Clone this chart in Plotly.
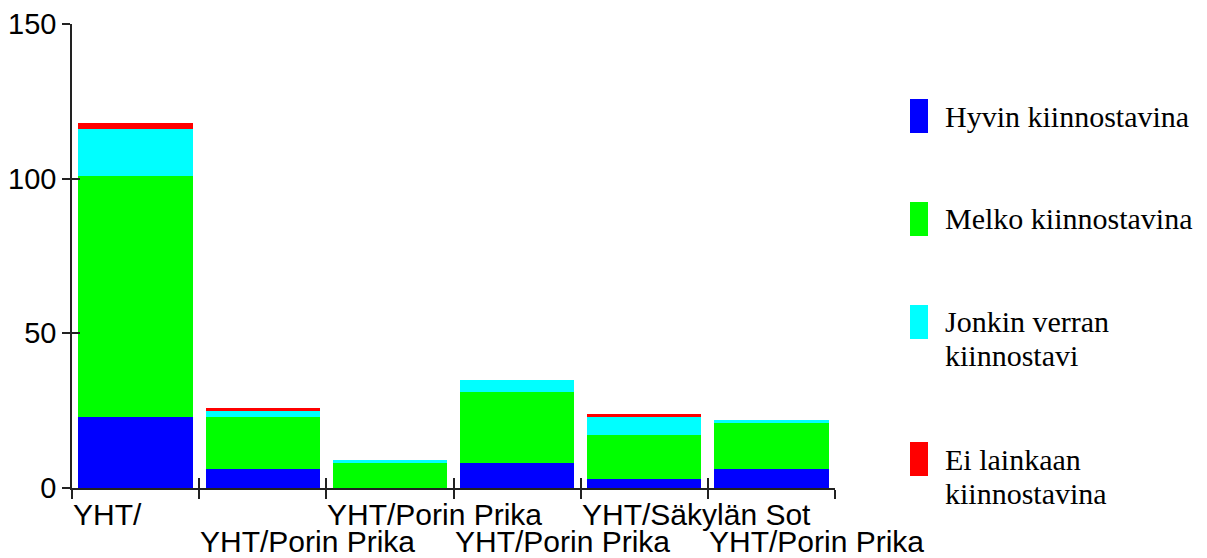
import plotly.graph_objects as go

# data
categories = ["YHT/", "YHT/Porin Prika", "YHT/Porin Prika", "YHT/Porin Prika",
              "YHT/Säkylän Sot", "YHT/Porin Prika"]
hyvin = [23, 6, 0, 8, 3, 6]
melko = [78, 17, 8, 23, 14, 15]
jonkin = [15, 2, 1, 4, 6, 1]
ei = [2, 1, 0, 0, 1, 0]

series_names = ["Hyvin kiinnostavina", "Melko kiinnostavina",
                "Jonkin verran<br>kiinnostavi", "Ei lainkaan<br>kiinnostavina"]
series_values = [hyvin, melko, jonkin, ei]
series_colors = ["#0000FF", "#00FF00", "#00FFFF", "#FF0000"]

y_ticks = [0, 50, 100, 150]

# the page body adds an 8px margin, so the figure is drawn 8px smaller
OFF = 8
W, H = 1207 - OFF, 558 - OFF
L, R, T, B = 72 - OFF, 372, 24 - OFF, 70
plot_w = W - L - R
plot_h = H - T - B

SANS = "Liberation Sans, Arial, sans-serif"
SERIF = "Liberation Serif, Times New Roman, serif"

def px_x(p):
    # page pixel -> paper x
    return (p - OFF - L) / plot_w

def px_y(p):
    # page pixel -> paper y
    return (H - B - (p - OFF)) / plot_h

idx = list(range(len(categories)))
bounds = [i - 0.5 for i in range(len(categories) + 1)]

fig = go.Figure()
for name, vals, col in zip(series_names, series_values, series_colors):
    fig.add_trace(go.Bar(x=idx, y=vals, name=name, marker_color=col,
                         marker_line_width=0, showlegend=False))

# empty trace so the overlay axes (inner half of the crossing ticks) get drawn
fig.add_trace(go.Scatter(x=[None], y=[None], xaxis="x2", yaxis="y2",
                         showlegend=False, hoverinfo="skip"))

fig.update_layout(
    width=W, height=H,
    margin=dict(l=L, r=R, t=T, b=B, autoexpand=False),
    barmode="stack", bargap=0.1,
    plot_bgcolor="white", paper_bgcolor="white",
    font=dict(family=SANS, size=30, color="black"),
    xaxis=dict(range=[-0.5, len(categories) - 0.5], tickvals=bounds,
               showticklabels=False, ticks="outside", ticklen=9, tickwidth=1.5,
               tickcolor="#222", showline=True, linecolor="#222", linewidth=1.5,
               showgrid=False, zeroline=False, automargin=False),
    yaxis=dict(range=[0, 150], tickvals=y_ticks, ticks="outside", ticklen=8,
               tickwidth=1.5, tickcolor="#222", showline=True, linecolor="#222",
               linewidth=1.5, showgrid=False, zeroline=False, automargin=False,
               ticklabeloverflow="allow", tickfont=dict(size=29)),
    xaxis2=dict(overlaying="x", anchor="y2", range=[-0.5, len(categories) - 0.5],
                tickvals=bounds, showticklabels=False, ticks="inside", ticklen=10,
                tickwidth=1.5, tickcolor="#222", showline=False, showgrid=False,
                zeroline=False, automargin=False),
    yaxis2=dict(overlaying="y", anchor="x2", range=[0, 150], tickvals=y_ticks,
                showticklabels=False, ticks="inside", ticklen=8, tickwidth=1.5,
                tickcolor="#222", showline=False, showgrid=False, zeroline=False,
                automargin=False),
)

# category labels, left aligned at the category start, alternating rows
for i, lab in enumerate(categories):
    fig.add_annotation(x=i - 0.5, xref="x", y=0, yref="paper",
                       text=lab, showarrow=False, xanchor="left", yanchor="middle",
                       yshift=-26 if i % 2 == 0 else -53, borderpad=0,
                       font=dict(family=SANS, size=30, color="black"))

# legend drawn by hand (tall swatches, serif labels)
swatch_tops = [99, 202, 305, 442]
line_gap = 34
for top, name, col in zip(swatch_tops, series_names, series_colors):
    fig.add_shape(type="rect", xref="paper", yref="paper",
                  x0=px_x(910), x1=px_x(928), y0=px_y(top), y1=px_y(top + 34),
                  fillcolor=col, line_width=0)
    for k, line in enumerate(name.split("<br>")):
        fig.add_annotation(x=px_x(943), xref="paper", y=px_y(top + 17 + k * line_gap),
                           yref="paper", text=line, showarrow=False,
                           xanchor="left", yanchor="middle",
                           font=dict(family=SERIF, size=30, color="black"))

fig.write_html("out.html")
